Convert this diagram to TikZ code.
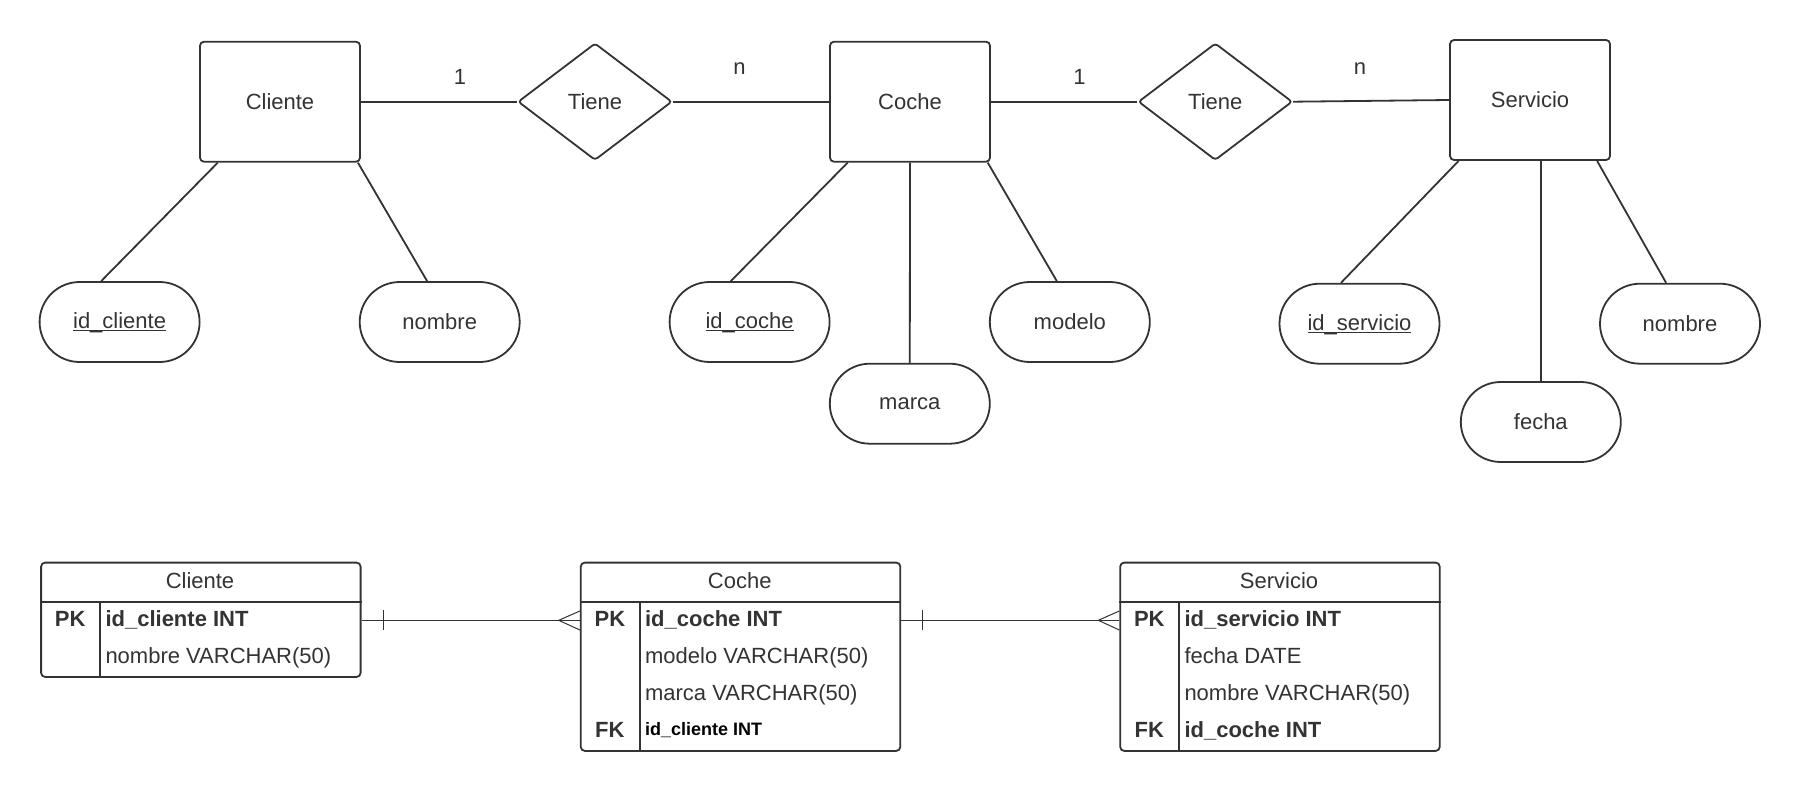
\documentclass[tikz,border=0pt]{standalone}
\usepackage{fontspec}
\setmainfont{Liberation Sans}
\usetikzlibrary{shapes.geometric}
\definecolor{ink}{RGB}{51,51,51}
\newcommand\erfont{\fontsize{22}{26}\selectfont}
\newcommand\fkfont{\fontsize{18}{22}\selectfont\bfseries}
\newcommand\ulk[1]{\underline{\raisebox{0pt}[\height][0pt]{#1}}}
\begin{document}
\begin{tikzpicture}[x=1pt,y=-1pt,
  every node/.style={text=ink, font=\erfont},
  entity/.style={draw=ink, line width=1.8pt, rounded corners=4pt, minimum width=160pt, minimum height=120pt, inner sep=0pt},
  rel/.style={diamond, draw=ink, line width=1.8pt, minimum width=154pt, minimum height=117pt, inner sep=0pt, rounded corners=3pt},
  attr/.style={draw=ink, line width=1.8pt, rounded corners=40pt, minimum width=160pt, minimum height=80pt, inner sep=0pt},
  erline/.style={draw=ink, line width=1.8pt},
  cardtxt/.style={inner sep=0pt},
  tabbox/.style={draw=ink, line width=1.8pt, rounded corners=4pt, minimum width=319.5pt, inner sep=0pt, anchor=north west},
  tline/.style={draw=ink, line width=1.8pt},
  tablink/.style={draw=ink, line width=1pt},
  pkfk/.style={font=\erfont\bfseries, inner sep=0pt, anchor=base},
  fieldtxt/.style={inner sep=0pt, anchor=base west},
  tabhead/.style={inner sep=0pt, anchor=base},
]
\useasboundingbox (0,0) rectangle (1800,790);

% ---------- ER diagram ----------
\node[entity] (cliente) at (280,101.7) {Cliente};
\node[entity] (coche) at (910,101.7) {Coche};
\node[entity] (servicio) at (1530,100) {Servicio};
\node[rel] (tiene1) at (595,101.7) {Tiene};
\node[rel] (tiene2) at (1215.3,101.7) {Tiene};

\node[cardtxt] (c1) at (460,76.7) {1};
\node[cardtxt] (c2) at (739.6,68.3) {n};
\node[cardtxt] (c3) at (1079.6,77.3) {1};
\node[cardtxt] (c4) at (1360,68.3) {n};

\node[attr] (idcliente) at (119.6,322) {\ulk{id\_cliente}};
\node[attr] (nombre1) at (439.7,322) {nombre};
\node[attr] (idcoche) at (749.6,322) {\ulk{id\_coche}};
\node[attr] (modelo) at (1069.8,322) {modelo};
\node[attr] (marca) at (909.8,403.7) {marca};
\node[attr] (idservicio) at (1359.5,323.7) {\ulk{id\_servicio}};
\node[attr] (nombre2) at (1680,323.7) {nombre};
\node[attr] (fecha) at (1540.8,422) {fecha};

\draw[erline] (cliente.east) -- (tiene1.west);
\draw[erline] (tiene1.east) -- (coche.west);
\draw[erline] (coche.east) -- (tiene2.west);
\draw[erline] (tiene2.east) -- (servicio.west);

\draw[erline] ([xshift=18.7pt]cliente.south west) -- ([xshift=62.5pt]idcliente.north west);
\draw[erline] ([xshift=-3pt]cliente.south east) -- ([xshift=68.3pt]nombre1.north west);
\draw[erline] ([xshift=18.6pt]coche.south west) -- ([xshift=62.1pt]idcoche.north west);
\draw[erline] (coche.south) -- (marca.north);
\draw[erline] ([xshift=-3.2pt]coche.south east) -- ([xshift=67.9pt]modelo.north west);
\draw[erline] ([xshift=9.5pt]servicio.south west) -- ([xshift=62.4pt]idservicio.north west);
\draw[erline] (fecha.north) -- (fecha.north |- servicio.south);
\draw[erline] ([xshift=-13.8pt]servicio.south east) -- ([xshift=67pt]nombre2.north west);

% ---------- Tables ----------
\node[tabbox, minimum height=114.3pt] (tcliente) at (40.2,561.7) {};
\node[tabbox, minimum height=188.3pt] (tcoche) at (579.9,561.7) {};
\node[tabbox, minimum height=188.3pt] (tservicio) at (1119.3,561.7) {};

\foreach \t in {tcliente,tcoche,tservicio}{
  \draw[tline] ([yshift=-40pt]\t.north west) -- ([yshift=-40pt]\t.north east);
  \draw[tline] ([xshift=60pt,yshift=-40pt]\t.north west) -- ([xshift=60pt]\t.south west);
}

% Cliente table
\node[tabhead] (hcl) at (200,588) {Cliente};
\node[pkfk] (pkcl) at (70.2,626.3) {PK};
\node[fieldtxt,font=\erfont\bfseries] (fcl1) at (105.3,626.3) {id\_cliente INT};
\node[fieldtxt] (fcl2) at (105.3,663.6) {nombre VARCHAR(50)};

% Coche table
\node[tabhead] (hco) at (739.7,588) {Coche};
\node[pkfk] (pkco) at (609.9,626.3) {PK};
\node[fieldtxt,font=\erfont\bfseries] (fco1) at (644.9,626.3) {id\_coche INT};
\node[fieldtxt] (fco2) at (644.9,663.6) {modelo VARCHAR(50)};
\node[fieldtxt] (fco3) at (644.9,700.4) {marca VARCHAR(50)};
\node[pkfk] (fkco) at (609.9,737.2) {FK};
\node[fieldtxt,font=\fkfont,text=black] (fco4) at (644.9,735.6) {id\_cliente INT};

% Servicio table
\node[tabhead] (hse) at (1279.1,588) {Servicio};
\node[pkfk] (pkse) at (1149.3,626.3) {PK};
\node[fieldtxt,font=\erfont\bfseries] (fse1) at (1184.3,626.3) {id\_servicio INT};
\node[fieldtxt] (fse2) at (1184.3,663.6) {fecha DATE};
\node[fieldtxt] (fse3) at (1184.3,700.4) {nombre VARCHAR(50)};
\node[pkfk] (fkse) at (1149.3,737.2) {FK};
\node[fieldtxt,font=\erfont\bfseries] (fse4) at (1184.3,737.2) {id\_coche INT};

% Table links
\coordinate (l1a) at (tcliente.east |- 0,620.3);
\coordinate (l1b) at (tcoche.west |- 0,620.3);
\draw[tablink] (l1a) -- (l1b);
\draw[tablink] ([xshift=21.8pt,yshift=10pt]l1a) -- ([xshift=21.8pt,yshift=-10pt]l1a);
\draw[tablink] ([yshift=9.3pt]l1b) -- ([xshift=-21.2pt]l1b) -- ([yshift=-9.7pt]l1b);

\coordinate (l2a) at (tcoche.east |- 0,620.3);
\coordinate (l2b) at (tservicio.west |- 0,620.3);
\draw[tablink] (l2a) -- (l2b);
\draw[tablink] ([xshift=21.1pt,yshift=10pt]l2a) -- ([xshift=21.1pt,yshift=-10pt]l2a);
\draw[tablink] ([yshift=9.3pt]l2b) -- ([xshift=-21pt]l2b) -- ([yshift=-9.7pt]l2b);
\end{tikzpicture}
\end{document}
